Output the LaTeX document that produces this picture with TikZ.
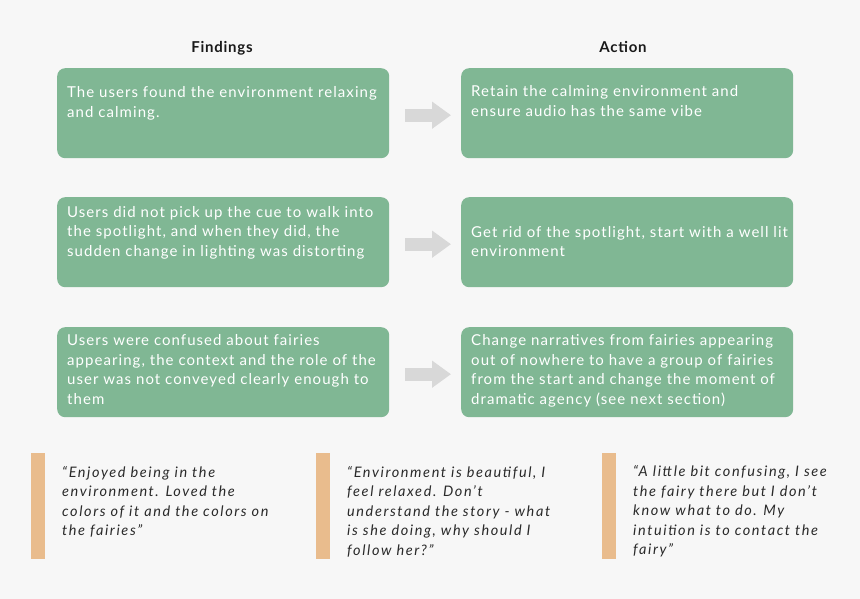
\documentclass[tikz,border=0pt]{standalone}
\usepackage{fontspec}
\setmainfont{Lato}[LetterSpace=7]
\newfontfamily\quotefont{Lato}[LetterSpace=11]
\newfontfamily\headfont{Lato}[LetterSpace=5]
\usetikzlibrary{arrows.meta}
\definecolor{bg}{HTML}{F7F7F7}
\definecolor{cardgreen}{HTML}{80B794}
\definecolor{barorange}{HTML}{E9BC8D}
\definecolor{arrowgray}{HTML}{D8D8D8}
\definecolor{quotegray}{HTML}{2A2A2A}
\definecolor{headgray}{HTML}{1A1A1A}
\tikzset{
 card/.style={fill=cardgreen, rounded corners=8pt, minimum width=332pt, minimum height=90pt, inner sep=0pt, anchor=north west},
 cardtext/.style={text=white, font=\fontsize{15}{19.5}\selectfont, align=left, anchor=base west, inner sep=0pt},
 quotebar/.style={fill=barorange, minimum width=13.5pt, minimum height=106pt, inner sep=0pt, anchor=north west},
 quotetext/.style={text=quotegray, font=\quotefont\itshape\fontsize{14.5}{19.5}\selectfont, align=left, anchor=base west, inner sep=0pt},
 header/.style={font=\headfont\bfseries\fontsize{15}{17}\selectfont, text=headgray, anchor=base, inner sep=0pt},
 flow/.style={draw=arrowgray, line width=13pt, -{Triangle[width=26pt,length=19pt]}}
}
\begin{document}
\begin{tikzpicture}[x=1pt,y=1pt]
\fill[bg] (0,0) rectangle (860,-599);
\useasboundingbox (0,0) rectangle (860,-599);
% headers
\node[header] (hf) at (222,-52.7) {Findings};
\node[header] (ha) at (623,-52.7) {Action};
% cards
\node[card] (f1) at (57,-68) {};
\node[card] (f2) at (57,-197) {};
\node[card] (f3) at (57,-327) {};
\node[card] (a1) at (461,-68) {};
\node[card] (a2) at (461,-197) {};
\node[card] (a3) at (461,-327) {};
% card texts (anchored at the baseline of their last line)
\node[cardtext] (tf1) at (67,-117.2) {The users found the environment relaxing\\and calming.};
\node[cardtext] (tf2) at (67,-256.3) {Users did not pick up the cue to walk into\\the spotlight, and when they did, the\\sudden change in lighting was distorting};
\node[cardtext] (tf3) at (67,-404.2) {Users were confused about fairies\\appearing, the context and the role of the\\user was not conveyed clearly enough to\\them};
\node[cardtext] (ta1) at (471,-116.2) {Retain the calming environment and\\ensure audio has the same vibe};
\node[cardtext] (ta2) at (471,-256.8) {Get rid of the spotlight, start with a well lit\\environment};
\node[cardtext] (ta3) at (471,-404.2) {Change narratives from fairies appearing\\out of nowhere to have a group of fairies\\from the start and change the moment of\\dramatic agency (see next section)};
% arrows
\draw[flow] ([xshift=15.7pt,yshift=-2pt]f1.east) -- ([xshift=-10pt,yshift=-2pt]a1.west);
\draw[flow] ([xshift=15.7pt,yshift=-2pt]f2.east) -- ([xshift=-10pt,yshift=-2pt]a2.west);
\draw[flow] ([xshift=15.7pt,yshift=-2pt]f3.east) -- ([xshift=-10pt,yshift=-2pt]a3.west);
% quote bars
\node[quotebar] (b1) at (31,-453) {};
\node[quotebar] (b2) at (316,-453) {};
\node[quotebar] (b3) at (602,-453) {};
% quotes
\node[quotetext] (q1) at (62,-535.5) {“Enjoyed being in the\\environment. Loved the\\colors of it and the colors on\\the fairies”};
\node[quotetext] (q2) at (347,-555) {“Environment is beautiful, I\\feel relaxed. Don’t\\understand the story - what\\is she doing, why should I\\follow her?”};
\node[quotetext] (q3) at (633,-554.7) {“A little bit confusing, I see\\the fairy there but I don’t\\know what to do. My\\intuition is to contact the\\fairy”};
\end{tikzpicture}
\end{document}
